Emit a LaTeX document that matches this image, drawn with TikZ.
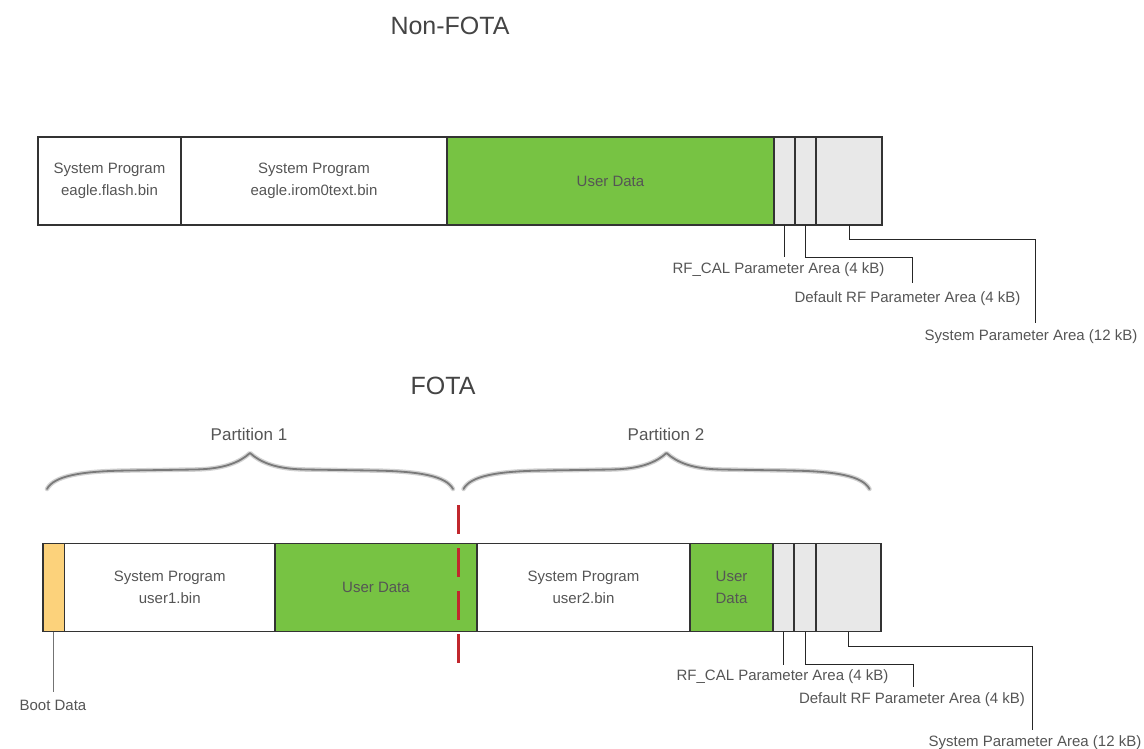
\documentclass[tikz,border=0pt]{standalone}
\usepackage{fontspec}
\setmainfont{Liberation Sans}
\definecolor{linec}{HTML}{333333}
\definecolor{txt}{HTML}{555555}
\definecolor{ttl}{HTML}{444444}
\definecolor{ugreen}{HTML}{77C343}
\definecolor{lgray}{HTML}{E8E8E8}
\definecolor{boot}{HTML}{FCD27B}
\definecolor{redd}{HTML}{C1272D}
\definecolor{bhalo}{HTML}{D2D2D2}
\definecolor{bcore}{HTML}{7A7A7A}
\newcommand{\lblfont}{\fontsize{15pt}{21.5pt}\selectfont}
\begin{document}
\begin{tikzpicture}[x=1pt,y=-1pt,
  cell/.style={draw=linec, line width=1.2pt, inner sep=0pt, outer sep=0pt,
    minimum height=88pt, anchor=north west, align=center, font=\lblfont, text=txt},
  lbl/.style={inner sep=0pt, font=\lblfont, text=txt},
  lead/.style={draw=black!85, line width=0.9pt},
  ttl/.style={inner sep=0pt, font=\fontsize{25pt}{30pt}\selectfont, text=ttl},
  part/.style={inner sep=0pt, font=\fontsize{17pt}{20pt}\selectfont, text=txt},
  bracepath/.style={line cap=round, line join=round}]
\useasboundingbox (0,0) rectangle (1144,749);

% Titles
\node[ttl] (t1) at (450,26) {Non-FOTA};
\node[ttl] (t2) at (443,386) {FOTA};

% Non-FOTA bar
\node[cell, minimum width=143pt, fill=white] (A) at (38,137) {System Program\\eagle.flash.bin};
\node[cell, minimum width=266pt, fill=white] (B) at (181,137) {System Program\\eagle.irom0text.bin};
\node[cell, minimum width=327pt, fill=ugreen] (C) at (447,137) {User Data};
\node[cell, minimum width=21pt, fill=lgray] (D) at (774,137) {};
\node[cell, minimum width=21pt, fill=lgray] (E) at (795,137) {};
\node[cell, minimum width=66pt, fill=lgray] (F) at (816,137) {};

% Non-FOTA labels
\node[lbl] (l1) at (778.5,270) {RF\_CAL Parameter Area (4 kB)};
\node[lbl] (l2) at (907.5,299) {Default RF Parameter Area (4 kB)};
\node[lbl] (l3) at (1031,337) {System Parameter Area (12 kB)};
\coordinate (d1) at (D.south |- 0,257);
\coordinate (e1) at (E.south |- 0,257);
\coordinate (e2) at (912,257);
\coordinate (e3) at (912,283);
\coordinate (f1) at (F.south |- 0,239);
\coordinate (f2) at (1035,239);
\coordinate (f3) at (1035,323);
\draw[lead] (D.south) -- (d1);
\draw[lead] (E.south) -- (e1) -- (e2) -- (e3);
\draw[lead] (F.south) -- (f1) -- (f2) -- (f3);

% Braces
\foreach \cx in {250,666.5}{
  \begin{scope}[xshift=\cx pt]
    \draw[bracepath, draw=bhalo, line width=4.5pt]
      (-203,489) .. controls (-196,476) and (-170,471) .. (-120,470.5) -- (-55,469.5)
      .. controls (-25,469) and (-10,462) .. (0,453)
      .. controls (10,462) and (25,469) .. (55,469.5) -- (120,470.5)
      .. controls (170,471) and (196,476) .. (203,489);
    \draw[bracepath, draw=bcore, line width=1.8pt]
      (-203,489) .. controls (-196,476) and (-170,471) .. (-120,470.5) -- (-55,469.5)
      .. controls (-25,469) and (-10,462) .. (0,453)
      .. controls (10,462) and (25,469) .. (55,469.5) -- (120,470.5)
      .. controls (170,471) and (196,476) .. (203,489);
  \end{scope}
}
\node[part] (p1) at (249,434) {Partition 1};
\node[part] (p2) at (666,434) {Partition 2};

% FOTA bar
\node[cell, minimum width=21.5pt, fill=boot] (bt) at (43,543.5) {};
\node[cell, minimum width=210.5pt, fill=white] (s1) at (64.5,543.5) {System Program\\user1.bin};
\node[cell, minimum width=202pt, fill=ugreen] (u1) at (275,543.5) {User Data};
\node[cell, minimum width=213pt, fill=white] (s2) at (477,543.5) {System Program\\user2.bin};
\node[cell, minimum width=83pt, fill=ugreen] (u2) at (690,543.5) {User\\Data};
\node[cell, minimum width=21pt, fill=lgray] (g1) at (773,543.5) {};
\node[cell, minimum width=22pt, fill=lgray] (g2) at (794,543.5) {};
\node[cell, minimum width=65pt, fill=lgray] (g3) at (816,543.5) {};

% Red partition divider
\coordinate (r1) at (458.7,505);
\coordinate (r2) at (458.7,663);
\draw[draw=redd, line width=3pt, dash pattern=on 28.5pt off 14.5pt] (r1) -- (r2);

% FOTA labels
\node[lbl] (bl) at (53,705) {Boot Data};
\node[lbl] (m1) at (782.5,677) {RF\_CAL Parameter Area (4 kB)};
\node[lbl] (m2) at (912,700) {Default RF Parameter Area (4 kB)};
\node[lbl] (m3) at (1035,742.5) {System Parameter Area (12 kB)};
\coordinate (b1) at (bt.south |- 0,692);
\coordinate (h1) at (g1.south |- 0,665);
\coordinate (k1) at (g2.south |- 0,664);
\coordinate (k2) at (913,664);
\coordinate (k3) at (913,687);
\coordinate (q1) at (g3.south |- 0,646);
\coordinate (q2) at (1032,646);
\coordinate (q3) at (1032,730);
\draw[lead, draw=black!55] (bt.south) -- (b1);
\draw[lead] (g1.south) -- (h1);
\draw[lead] (g2.south) -- (k1) -- (k2) -- (k3);
\draw[lead] (g3.south) -- (q1) -- (q2) -- (q3);
\end{tikzpicture}
\end{document}
